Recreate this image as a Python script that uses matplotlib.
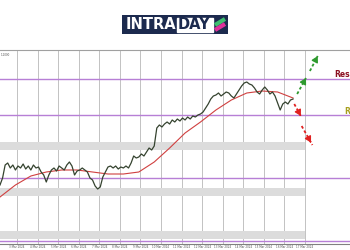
import numpy as np
import matplotlib.pyplot as plt
from matplotlib.patches import Rectangle

# price closes, 8 bars per day (3h bars)
close = [1.0865, 1.0872, 1.0885, 1.0887, 1.0882, 1.0885, 1.0880, 1.0884, 1.0882,
         1.0886, 1.0881, 1.0884, 1.0880, 1.0885, 1.0882, 1.0883, 1.0878, 1.0875,
         1.0868, 1.0875, 1.0880, 1.0882, 1.0879, 1.0884, 1.0882, 1.0880, 1.0885,
         1.0888, 1.0884, 1.0875, 1.0879, 1.0880, 1.0882, 1.0880, 1.0878, 1.0872,
         1.0870, 1.0864, 1.0861, 1.0863, 1.0873, 1.0878, 1.0883, 1.0884, 1.0882,
         1.0884, 1.0881, 1.0883, 1.0882, 1.0884, 1.0882, 1.0887, 1.0894, 1.0892,
         1.0893, 1.0896, 1.0894, 1.0898, 1.0902, 1.0900, 1.0904, 1.0922, 1.0925,
         1.0923, 1.0926, 1.0928, 1.0926, 1.0930, 1.0928, 1.0931, 1.0929, 1.0932,
         1.0930, 1.0933, 1.0931, 1.0934, 1.0933, 1.0935, 1.0936, 1.0938, 1.0942,
         1.0946, 1.0951, 1.0954, 1.0955, 1.0957, 1.0954, 1.0956, 1.0958, 1.0957,
         1.0954, 1.0952, 1.0956, 1.0960, 1.0964, 1.0967, 1.0968, 1.0966, 1.0965,
         1.0962, 1.0958, 1.0956, 1.0960, 1.0963, 1.0960, 1.0956, 1.0958, 1.0954,
         1.0947, 1.0940, 1.0946, 1.0948, 1.0946, 1.0950, 1.0951]
bars_per_day = 8
start_day = -0.83

# moving average, sampled every 6 bars
ma = [1.0853, 1.0865, 1.0874, 1.0878, 1.0880, 1.0880, 1.0878, 1.0876, 1.0876, 1.0878,
      1.0888, 1.0902, 1.0917, 1.0928, 1.0940, 1.0950, 1.0957, 1.0959, 1.0958, 1.0952]
ma_step = 6

levels = [1.0971, 1.0935, 1.0872, 1.0809]
zones = [(1.0900, 1.0908), (1.0854, 1.0862), (1.0811, 1.0819)]
dates = ["3 Mar 2024", "4 Mar 2024", "5 Mar 2024", "6 Mar 2024", "7 Mar 2024",
         "8 Mar 2024", "9 Mar 2024", "10 Mar 2024", "11 Mar 2024", "12 Mar 2024",
         "13 Mar 2024", "14 Mar 2024", "15 Mar 2024", "16 Mar 2024", "17 Mar 2024"]

# scenario arrows: (start, end) in (day, price)
up_arrows = [((13.62, 1.0956), (14.05, 1.0972)), ((14.24, 1.0979), (14.62, 1.0994))]
down_arrows = [((13.48, 1.0946), (13.8, 1.0934)), ((13.84, 1.0924), (14.36, 1.0905))]

fig = plt.figure(figsize=(3.5, 2.5), dpi=100)
ax = fig.add_axes([0, 6 / 250, 1, 194 / 250])
ax.set_xlim(-0.83, 16.19)
ax.set_ylim(1.0806, 1.1000)

n_days = len(dates)
for d in range(n_days):
    ax.axvline(d, color="#b8b8b8", lw=0.6, zorder=0)
for lo, hi in zones:
    ax.fill_between([start_day, n_days - 1], lo, hi, color="#dcdcdc", lw=0, zorder=1)
for lv in levels:
    ax.axhline(lv, color="#b77fd6", lw=1.0, zorder=2)

x_close = start_day + np.arange(len(close)) / bars_per_day
ax.plot(x_close, close, color="#35432f", lw=0.9, zorder=4)
x_ma = start_day + np.arange(len(ma)) * ma_step / bars_per_day
ax.plot(x_ma, ma, color="#d04040", lw=0.8, zorder=3)


def scenario_arrow(a, b, color):
    ax.plot([a[0], b[0]], [a[1], b[1]], color=color, lw=1.3, ls=(0, (1.6, 1.3)), zorder=5)
    ax.annotate("", xy=b, xytext=(a[0] + 0.7 * (b[0] - a[0]), a[1] + 0.7 * (b[1] - a[1])),
                arrowprops=dict(arrowstyle="-|>,head_length=0.35,head_width=0.2",
                                color=color, lw=1.0), zorder=6)


for a, b in up_arrows:
    scenario_arrow(a, b, "#2e9a2e")
for a, b in down_arrows:
    scenario_arrow(a, b, "#e02020")

ax.text(16.19, 1.0976, "Res", color="#8b1020", fontsize=5.5, fontweight="bold",
        va="center", ha="right")
ax.text(16.19, 1.0938, "R", color="#a8a020", fontsize=5.5, fontweight="bold",
        va="center", ha="right")

ax.set_xticks(range(n_days))
ax.set_xticklabels(dates, fontsize=2, color="#555555")
ax.tick_params(axis="x", length=0, pad=1)
ax.set_yticks([])
for s in ["left", "right"]:
    ax.spines[s].set_visible(False)
ax.spines["top"].set_color("#a0a0a0")
ax.spines["bottom"].set_color("#808080")
ax.spines["top"].set_linewidth(0.8)
ax.spines["bottom"].set_linewidth(0.8)
ax.text(0.003, 0.985, "1.1000", transform=ax.transAxes, fontsize=2, color="#555555",
        va="top")

# logo
logo = fig.add_axes([122 / 350, 1 - 34 / 250, 106 / 350, 19 / 250])
logo.set_xlim(0, 106)
logo.set_ylim(0, 19)
logo.axis("off")
logo.add_patch(Rectangle((0, 0), 106, 19, color="#1c2a4e"))
logo.add_patch(Rectangle((55, 2.5), 36, 14, color="white"))
logo.text(4, 9.5, "INTRA", color="white", fontsize=10.5, fontweight="bold", va="center")
logo.text(56, 9.5, "DAY", color="#1c2a4e", fontsize=10.5, fontweight="bold", va="center")
logo.plot([93, 103], [9, 15], color="#3fbf6f", lw=3, solid_capstyle="butt")
logo.plot([93, 103], [4, 10], color="#e0309a", lw=3, solid_capstyle="butt")

fig.savefig("out.png", dpi=100)
